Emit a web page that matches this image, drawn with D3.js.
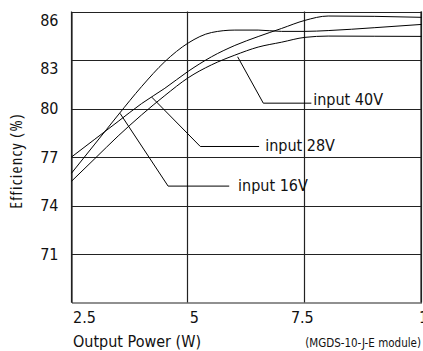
<!DOCTYPE html>
<html>
<head>
<meta charset="utf-8">
<script src="https://cdn.jsdelivr.net/npm/d3@7"></script>
<style>
  body { margin: 0; background: #fff; }
  svg { display: block; font-family: "DejaVu Sans Condensed", "DejaVu Sans", sans-serif; font-stretch: condensed; }
</style>
</head>
<body>
<svg width="423" height="351"></svg>
<script>
var svg = d3.select("svg"),
    width = 423,
    height = 351;

// the data
var power = [2.5, 3, 3.5, 4, 4.5, 5, 5.5, 6, 6.5, 7, 7.5, 8, 9, 10];
var eff16 = [76.0, 77.8, 79.6, 81.35, 82.9, 84.05, 84.7, 84.85, 84.85, 84.77, 84.77, 84.82, 85.0, 85.2];
var eff28 = [77.0, 78.1, 79.2, 80.3, 81.25, 82.3, 83.2, 83.9, 84.45, 84.95, 85.45, 85.72, 85.7, 85.64];
var eff40 = [75.5, 76.9, 78.3, 79.6, 80.8, 81.9, 82.7, 83.3, 83.8, 84.1, 84.4, 84.48, 84.47, 84.46];

var xTicks = [2.5, 5, 7.5, 10];
var yTicks = [71, 74, 77, 80, 83, 86];

// callouts: label, point on curve, elbow, end of leader, label anchor (data units)
var labels = ["input 16V", "input 28V", "input 40V"];
var leaderFrom = [[3.54, 79.7], [4.22, 80.7], [6.06, 83.2]];
var leaderElbow = [[4.57, 75.2], [5.26, 77.65], [6.61, 80.33]];
var leaderEnd = [5.88, 6.52, 7.64];
var labelAt = [[6.07, 74.87], [6.65, 77.4], [7.68, 80.2]];

var x = d3.scaleLinear().domain([2.5, 10]).range([71.5, 421.5]);
var y = d3.scaleLinear().domain([68, 86]).range([302.5, 11.5]);

//////////// GRID ////////////
var grid = svg.append("g").attr("stroke", "#222").attr("stroke-width", 1.2);

grid.selectAll(".hg")
    .data(yTicks)
    .enter().append("line")
    .attr("x1", x(2.5)).attr("x2", x(10))
    .attr("y1", function(d) { return Math.round(y(d)) + 0.5; })
    .attr("y2", function(d) { return Math.round(y(d)) + 0.5; });

grid.selectAll(".vg")
    .data(xTicks)
    .enter().append("line")
    .attr("y1", y(86)).attr("y2", y(68))
    .attr("x1", function(d) { return Math.round(x(d)) - 0.5; })
    .attr("x2", function(d) { return Math.round(x(d)) - 0.5; });

//////////// AXES ////////////
var yAxis = svg.append("g")
    .attr("transform", "translate(" + x(2.5) + ",0)")
    .call(d3.axisLeft(y).tickValues(yTicks).tickSize(0).tickPadding(13));
yAxis.select(".domain").attr("stroke", "#222").attr("stroke-width", 1.2);
yAxis.selectAll("text")
    .attr("font-size", 16)
    .attr("font-family", "DejaVu Sans Condensed, DejaVu Sans, sans-serif")
    .attr("fill", "#111")
    .attr("dy", function(d) { return d >= 83 ? "0.85em" : "0.32em"; });

var xAxis = svg.append("g")
    .attr("transform", "translate(0," + y(68) + ")")
    .call(d3.axisBottom(x).tickValues(xTicks).tickSize(0).tickPadding(9)
      .tickFormat(function(d) { return String(d); }));
xAxis.select(".domain").attr("stroke", "#222").attr("stroke-width", 1.2);
xAxis.selectAll("text")
    .attr("font-size", 16)
    .attr("font-family", "DejaVu Sans Condensed, DejaVu Sans, sans-serif")
    .attr("fill", "#111")
    .attr("text-anchor", function(d) { return d === 7.5 ? "middle" : "start"; })
    .attr("dx", function(d) { return d === 7.5 ? -3 : (d === 10 ? -3 : 1); });

// right border
svg.append("line")
    .attr("x1", x(10) - 0.5).attr("x2", x(10) - 0.5)
    .attr("y1", y(86)).attr("y2", y(68))
    .attr("stroke", "#222").attr("stroke-width", 1.2);

//////////// CURVES ////////////
var line = d3.line()
    .x(function(d) { return x(d[0]); })
    .y(function(d) { return y(d[1]); })
    .curve(d3.curveMonotoneX);

[eff16, eff28, eff40].forEach(function(series) {
  svg.append("path")
      .datum(power.map(function(p, i) { return [p, series[i]]; }))
      .attr("fill", "none")
      .attr("stroke", "#000")
      .attr("stroke-width", 1)
      .attr("d", line);
});

//////////// CALLOUTS ////////////
labels.forEach(function(lab, i) {
  svg.append("polyline")
      .attr("fill", "none")
      .attr("stroke", "#000")
      .attr("stroke-width", 1)
      .attr("points", [
        [x(leaderFrom[i][0]), y(leaderFrom[i][1])],
        [x(leaderElbow[i][0]), y(leaderElbow[i][1])],
        [x(leaderEnd[i]), y(leaderElbow[i][1])]
      ].map(function(p) { return p.join(","); }).join(" "));
  svg.append("text")
      .attr("x", x(labelAt[i][0]))
      .attr("y", y(labelAt[i][1]))
      .attr("font-size", 16)
      .attr("fill", "#111")
      .text(lab);
});

//////////// TITLES ////////////
svg.append("text")
    .attr("x", 73).attr("y", 347)
    .attr("font-size", 16)
    .attr("fill", "#111")
    .text("Output Power (W)");

svg.append("text")
    .attr("transform", "translate(22,161) rotate(-90)")
    .attr("text-anchor", "middle")
    .attr("font-family", "Open Sans, sans-serif")
    .attr("font-size", 17)
    .attr("letter-spacing", 1.2)
    .attr("fill", "#111")
    .text("Efficiency (%)");

svg.append("text")
    .attr("x", 421).attr("y", 347)
    .attr("text-anchor", "end")
    .attr("font-size", 11.5)
    .attr("fill", "#111")
    .text("(MGDS-10-J-E module)");
</script>
</body>
</html>
